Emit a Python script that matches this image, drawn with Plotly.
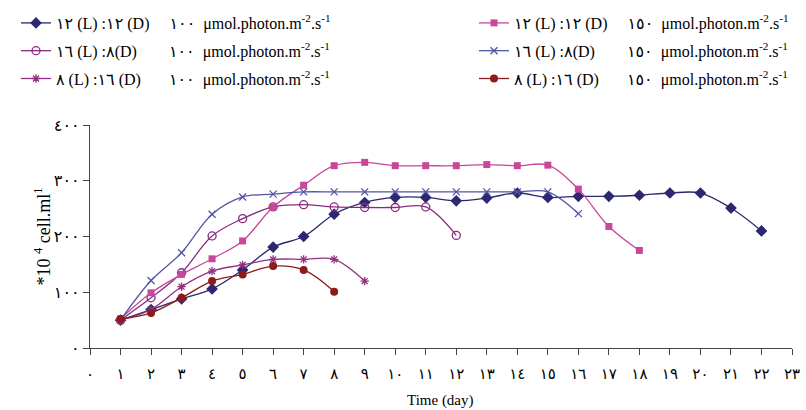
import plotly.graph_objects as go

days_s1 = list(range(1, 23))
s1 = [50, 69, 88, 106, 140, 181, 200, 240, 261, 270, 270, 264, 269, 278, 270, 272, 272, 274, 278, 278, 251, 210]

days_s2 = list(range(1, 13))
s2 = [50, 90, 135, 201, 232, 253, 257, 253, 252, 252, 253, 202]

days_s3 = list(range(1, 10))
s3 = [50, 69, 110, 138, 149, 159, 159, 159, 120]

days_s4 = list(range(1, 19))
s4 = [52, 99, 132, 160, 192, 253, 292, 327, 333, 327, 327, 327, 329, 327, 328, 285, 218, 175]

days_s5 = list(range(1, 17))
s5 = [50, 121, 171, 240, 271, 276, 280, 280, 280, 280, 280, 280, 280, 280, 280, 241]

days_s6 = list(range(1, 9))
s6 = [52, 63, 90, 120, 132, 147, 140, 101]

x_tickvals = list(range(0, 24))
x_ticktext = ["٠", "١", "٢", "٣", "٤", "٥", "٦", "٧", "٨", "٩", "١٠", "١١",
              "١٢", "١٣", "١٤", "١٥", "١٦", "١٧", "١٨", "١٩", "٢٠", "٢١", "٢٢", "٢٣"]
y_tickvals = [0, 100, 200, 300, 400]
y_ticktext = ["٠", "١٠٠", "٢٠٠", "٣٠٠", "٤٠٠"]

x_title = "Time (day)"
y_title = "*10 <sup>4</sup> cell.ml<sup>1</sup>"

NB = "\u00a0"
unit = "μmol.photon.m<sup>-2</sup>.s<sup>-1</sup>"
names = [
    "١٢ (L) :١٢ (D)" + NB * 5 + "١٠٠" + NB * 2 + unit,
    "١٦ (L) :٨(D)" + NB * 8 + "١٠٠" + NB * 2 + unit,
    "٨ (L) :١٦ (D)" + NB * 7 + "١٠٠" + NB * 2 + unit,
    "١٢ (L) :١٢ (D)" + NB * 5 + "١٥٠" + NB * 2 + unit,
    "١٦ (L) :٨(D)" + NB * 8 + "١٥٠" + NB * 2 + unit,
    "٨ (L) :١٦ (D)" + NB * 7 + "١٥٠" + NB * 2 + unit,
]

FONT = '"Liberation Serif", "DejaVu Sans", serif'

series = [
    (days_s1, s1, names[0], "#2B2770", dict(symbol="diamond", size=9), "legend"),
    (days_s2, s2, names[1], "#8A2A7F", dict(symbol="circle-open", size=8, line=dict(width=1.3)), "legend"),
    (days_s3, s3, names[2], "#93307F", dict(symbol="asterisk-open", size=7, line=dict(width=1.3)), "legend"),
    (days_s4, s4, names[3], "#C8479A", dict(symbol="square", size=7), "legend2"),
    (days_s5, s5, names[4], "#5354A3", dict(symbol="x-thin-open", size=7, line=dict(width=1.3)), "legend2"),
    (days_s6, s6, names[5], "#8E1B1B", dict(symbol="circle", size=8), "legend2"),
]

fig = go.Figure()
for i, (xd, yd, nm, col, mk, lg) in enumerate(series):
    mk = dict(mk)
    mk["color"] = col
    if "line" in mk:
        mk["line"] = dict(mk["line"], color=col)
    fig.add_trace(go.Scatter(
        x=xd, y=yd, name=nm, mode="lines+markers",
        line=dict(color=col, width=1.3, shape="spline", smoothing=1.0),
        marker=mk, legend=lg, legendgroup=str(i),
    ))

legend_common = dict(xanchor="left", yanchor="top", xref="container", yref="container",
                     font=dict(family=FONT, size=16, color="black"),
                     tracegroupgap=4, bgcolor="rgba(0,0,0,0)", itemwidth=30)

W, H = 806, 410
L, R, T, B = 90, 14, 125, 62
PW, PH = W - L - R, H - T - B

fig.update_layout(
    width=W, height=H,
    margin=dict(l=L, r=R, t=T, b=B, autoexpand=False),
    paper_bgcolor="white", plot_bgcolor="white",
    font=dict(family=FONT, size=14, color="black"),
    showlegend=True,
    legend=dict(x=16 / W, y=1 - 6 / H, **legend_common),
    legend2=dict(x=474 / W, y=1 - 6 / H, **legend_common),
    xaxis=dict(range=[0, 23], tickvals=x_tickvals, ticktext=x_ticktext,
               showgrid=False, zeroline=False, showline=True, linecolor="#444",
               linewidth=1.3, ticks="outside", ticklen=6, tickcolor="#444",
               ticklabelstandoff=6, automargin=False,
               tickfont=dict(family=FONT, size=15, color="black")),
    yaxis=dict(range=[0, 400], tickvals=y_tickvals, ticktext=y_ticktext,
               showgrid=False, zeroline=False, showline=True, linecolor="#444",
               linewidth=1.3, ticks="outside", ticklen=6, tickcolor="#444",
               automargin=False,
               tickfont=dict(family=FONT, size=16, color="black")),
    annotations=[
        dict(text=x_title, xref="paper", yref="paper",
             x=(440 - L) / PW, y=-(400 - (T + PH)) / PH,
             xanchor="center", yanchor="middle", showarrow=False,
             font=dict(family=FONT, size=15, color="black")),
        dict(text=y_title, xref="paper", yref="paper",
             x=-(L - 43) / PW, y=0.5, textangle=-90,
             xanchor="center", yanchor="middle", showarrow=False,
             font=dict(family=FONT, size=18, color="black")),
    ],
)

fig.write_html("out.html", config={"displayModeBar": False},
               post_script="document.body.style.margin='0px';")
